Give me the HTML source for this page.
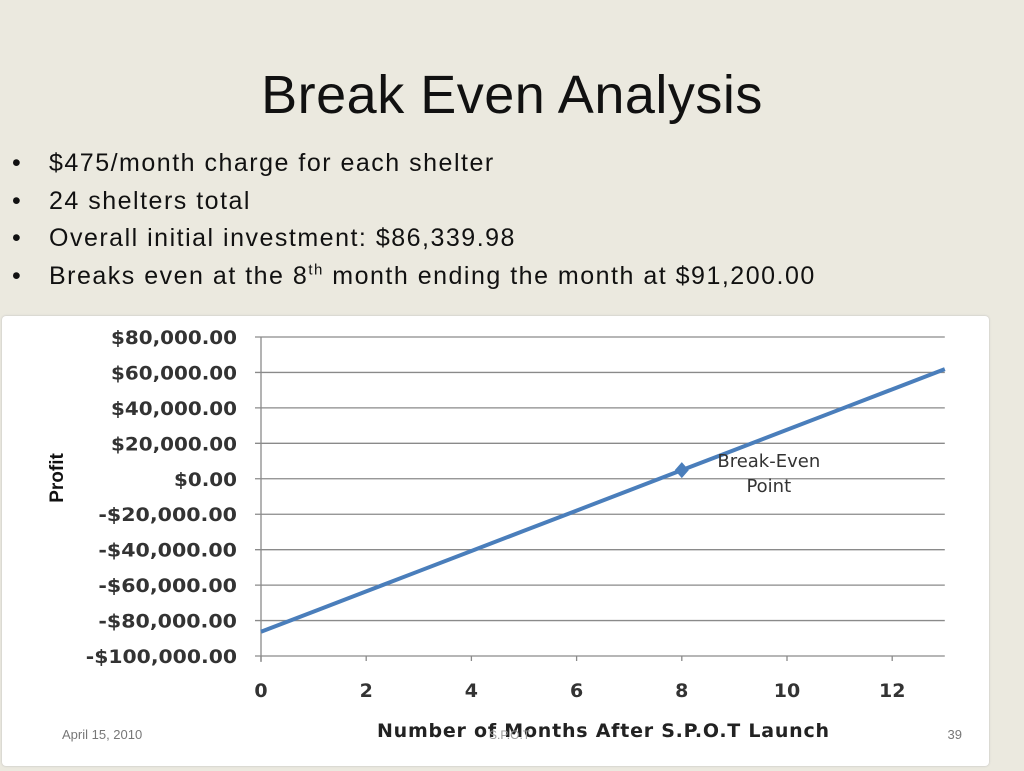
<!DOCTYPE html>
<html><head><meta charset="utf-8"><style>
body{margin:0;width:1024px;height:768px;background:#ebe9df;font-family:"Liberation Sans",sans-serif;position:relative;overflow:hidden}
h1{position:absolute;top:64px;left:0;width:1024px;text-align:center;margin:0;font-weight:normal;font-size:54px;color:#111;letter-spacing:0.5px}
ul{position:absolute;left:10px;top:146px;margin:0;padding:0;list-style:none;font-size:25px;letter-spacing:1.5px;color:#111}
li{height:37.6px;line-height:34px;padding-left:39px;position:relative}
li:before{content:"•";position:absolute;left:2px}
sup{font-size:15px;line-height:0;vertical-align:super}
#chart{position:absolute;left:2px;top:316px;width:987px;height:450px;background:#fff;border-radius:4px;box-shadow:0 0 2px #bbb}
</style></head><body>
<h1>Break Even Analysis</h1>
<ul>
<li>$475/month charge for each shelter</li>
<li>24 shelters total</li>
<li>Overall initial investment: $86,339.98</li>
<li>Breaks even at the 8<sup>th</sup> month ending the month at $91,200.00</li>
</ul>
<div id="chart">
<svg id="svg" width="987" height="450"></svg>
</div>
<script>
const months=[0,1,2,3,4,5,6,7,8,9,10,11,12,13];
const profit=[-86340,-74940,-63540,-52140,-40740,-29340,-17940,-6540,4860,16260,27660,39060,50460,61860];
const yTicks=[80000,60000,40000,20000,0,-20000,-40000,-60000,-80000,-100000];
const yTickLabels=["$80,000.00","$60,000.00","$40,000.00","$20,000.00","$0.00","-$20,000.00","-$40,000.00","-$60,000.00","-$80,000.00","-$100,000.00"];
const xTicks=[0,2,4,6,8,10,12];
const breakEvenMonth=8;
const ox=-2,oy=-316;
function X(m){return 261+m*52.6+ox;}
function Y(v){return 337+(80000-v)/180000*319+oy;}
const svg=document.getElementById('svg');const NS='http://www.w3.org/2000/svg';
function mk(t,a){const e=document.createElementNS(NS,t);for(const k in a)e.setAttribute(k,a[k]);svg.appendChild(e);return e;}
yTicks.forEach((v,i)=>{
 const g=mk('line',{x1:X(0)-6,x2:X(13),y1:Y(v),y2:Y(v),stroke:'#8a8a8a','stroke-width':1.3});
 
 
 const lab=yTickLabels[i];
 const t=mk('text',{x:X(0)-24,y:Y(v)+7,'text-anchor':'end','font-size':19,fill:'#333','font-weight':'bold','font-family':'DejaVu Sans, sans-serif',textLength:lab.length*12.6,lengthAdjust:'spacingAndGlyphs'});
 t.textContent=lab;
 
 
});
const ax=mk('line',{x1:X(0),x2:X(0),y1:Y(80000),y2:Y(-100000)+6,stroke:'#8a8a8a','stroke-width':1.3});


xTicks.forEach(m=>{
 const tk=mk('line',{x1:X(m),x2:X(m),y1:Y(-100000),y2:Y(-100000)+5,stroke:'#8a8a8a','stroke-width':1.3});
 
 
 const t=mk('text',{x:X(m),y:Y(-100000)+41,'text-anchor':'middle','font-size':19,'font-weight':'bold',fill:'#333','font-family':'DejaVu Sans, sans-serif'});
 t.textContent=m;
 
 
});
const line=mk('polyline',{points:months.map((m,i)=>X(m)+','+Y(profit[i])).join(' '),fill:'none',stroke:'#4a7ebb','stroke-width':4});


const bx=X(breakEvenMonth),by=Y(profit[months.indexOf(breakEvenMonth)]);
const mkD=mk('polygon',{points:`${bx},${by-8} ${bx+7},${by} ${bx},${by+8} ${bx-7},${by}`,fill:'#4a7ebb'});


const l1=mk('text',{x:bx+87,y:by-3,'text-anchor':'middle','font-size':18,fill:'#333','font-family':'DejaVu Sans, sans-serif'});l1.textContent='Break-Even';


const l2=mk('text',{x:bx+87,y:by+22,'text-anchor':'middle','font-size':18,fill:'#333','font-family':'DejaVu Sans, sans-serif'});l2.textContent='Point';


const yt=mk('text',{transform:`translate(61,${Y(0)+24}) rotate(-90)`,'font-size':19,'font-weight':'bold',fill:'#111','font-family':'Liberation Sans, sans-serif'});yt.textContent='Profit';


const xt=mk('text',{x:601,y:421,'text-anchor':'middle','font-size':19,'font-weight':'bold',fill:'#222','font-family':'DejaVu Sans, sans-serif','textLength':452});xt.textContent='Number of Months After S.P.O.T Launch';


const d=mk('text',{x:60,y:423,'font-size':13,fill:'#777'});d.textContent='April 15, 2010';


const f=mk('text',{x:487,y:423,'font-size':12,fill:'#999'});f.textContent='S.P.O.T';


const p=mk('text',{x:960,y:423,'text-anchor':'end','font-size':13,fill:'#777'});p.textContent='39';


</script>
</body></html>
